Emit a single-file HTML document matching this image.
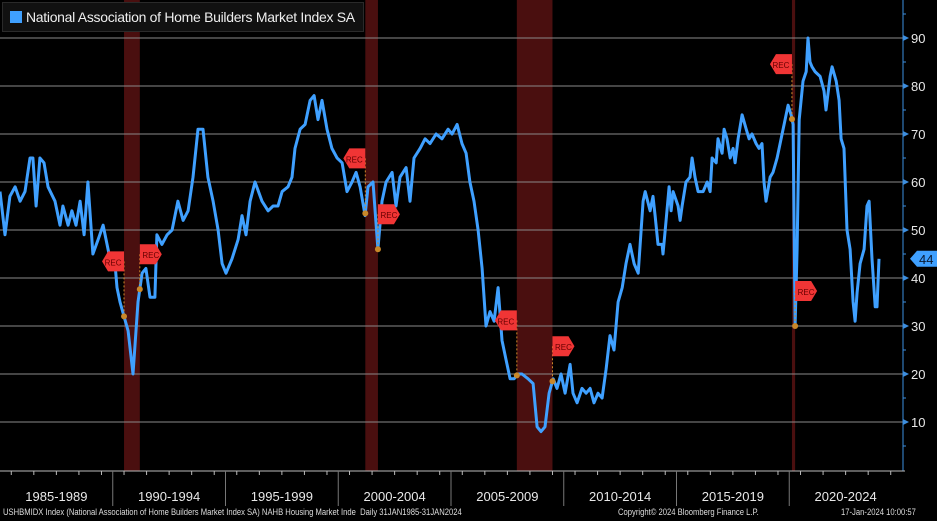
<!DOCTYPE html>
<html><head><meta charset="utf-8"><style>
html,body{margin:0;padding:0;background:#000;width:937px;height:521px;overflow:hidden}
svg{display:block;font-family:"Liberation Sans",sans-serif}
</style></head><body>
<svg id="c" width="937" height="521"></svg>
<script>
const years=[1985.00,1985.22,1985.44,1985.67,1985.89,1986.11,1986.33,1986.46,1986.60,1986.77,1986.95,1987.13,1987.44,1987.66,1987.79,1988.02,1988.19,1988.37,1988.55,1988.73,1988.90,1989.12,1989.35,1989.57,1989.88,1990.10,1990.19,1990.32,1990.50,1990.68,1990.90,1991.03,1991.12,1991.30,1991.47,1991.65,1991.87,1991.96,1992.18,1992.41,1992.63,1992.89,1993.12,1993.34,1993.56,1993.78,1994.00,1994.22,1994.45,1994.67,1994.85,1995.02,1995.29,1995.56,1995.73,1995.91,1996.09,1996.31,1996.62,1996.89,1997.11,1997.33,1997.51,1997.77,1997.95,1998.08,1998.31,1998.53,1998.75,1998.93,1999.10,1999.28,1999.50,1999.72,1999.95,2000.17,2000.39,2000.61,2000.79,2000.97,2001.19,2001.32,2001.54,2001.76,2001.94,2002.12,2002.39,2002.56,2002.74,2003.01,2003.18,2003.36,2003.63,2003.85,2004.07,2004.34,2004.60,2004.87,2005.05,2005.27,2005.49,2005.67,2005.84,2006.02,2006.20,2006.38,2006.55,2006.73,2006.91,2007.09,2007.26,2007.44,2007.62,2007.80,2007.97,2008.15,2008.42,2008.64,2008.82,2008.99,2009.17,2009.35,2009.53,2009.70,2009.88,2010.06,2010.28,2010.41,2010.59,2010.81,2010.99,2011.17,2011.34,2011.52,2011.70,2011.88,2012.05,2012.23,2012.41,2012.59,2012.76,2012.94,2013.12,2013.30,2013.52,2013.61,2013.83,2013.96,2014.05,2014.18,2014.36,2014.40,2014.54,2014.67,2014.76,2014.85,2015.07,2015.16,2015.25,2015.42,2015.60,2015.69,2015.82,2015.96,2016.18,2016.36,2016.49,2016.58,2016.76,2016.84,2017.02,2017.11,2017.24,2017.38,2017.51,2017.60,2017.73,2017.91,2018.09,2018.22,2018.35,2018.53,2018.66,2018.79,2018.88,2018.97,2019.15,2019.28,2019.46,2019.64,2019.77,2019.95,2020.08,2020.17,2020.26,2020.35,2020.44,2020.61,2020.75,2020.83,2020.92,2021.01,2021.14,2021.37,2021.54,2021.63,2021.81,2021.90,2022.08,2022.21,2022.30,2022.43,2022.56,2022.70,2022.83,2022.92,2023.01,2023.14,2023.32,2023.45,2023.54,2023.67,2023.81,2023.89,2023.98];
const values=[58,49,57,59,56,58,65,65,55,65,64,59,56,51,55,51,54,51,56,49,60,45,48,51,44,43,38,35,32,29,20,29,35,41,42,36,36,49,47,49,50,56,52,54,61,71,71,61,56,50,43,41,44,48,53,49,56,60,56,54,55,55,58,59,61,67,71,72,77,78,73,77,71,67,65,64,58,60,62,59,53,59,60,46,56,60,62,55,61,63,56,65,67,69,68,70,69,71,70,72,68,66,60,56,50,42,30,33,31,38,27,23,19,19,20,20,19,18,9,8,9,16,19,17,20,16,22,16,14,17,16,17,14,16,15,21,28,25,35,38,43,47,43,41,56,58,54,57,53,47,47,45,52,59,54,58,55,52,55,60,61,65,61,58,58,60,58,65,64,69,66,71,69,65,67,64,69,74,71,69,70,68,67,68,60,56,61,62,65,69,72,76,74,72,30,46,73,81,83,90,85,84,83,82,79,75,82,84,81,77,69,67,50,46,35,31,37,43,46,55,56,44,34,34,44];
const recStarts=[1990.5,2001.2,2007.92,2020.12];
const recEnds=[1991.2,2001.76,2009.5,2020.26];
const yTicks=[10,20,30,40,50,60,70,80,90];
const periodLabels=["1985-1989","1990-1994","1995-1999","2000-2004","2005-2009","2010-2014","2015-2019","2020-2024"];
const periodStarts=[1985,1990,1995,2000,2005,2010,2015,2020];
const lastValue=44;

const NS="http://www.w3.org/2000/svg";
const svg=document.getElementById('c');
const X=t=>(t-1985)*22.55;
const Y=v=>38+(90-v)*4.8;
function mk(tag,attrs,parent){const e=document.createElementNS(NS,tag);for(const k in attrs)e.setAttribute(k,attrs[k]);(parent||svg).appendChild(e);return e;}
function valAt(t){for(let i=1;i<years.length;i++){if(years[i]>=t){const f=(t-years[i-1])/(years[i]-years[i-1]);return values[i-1]+f*(values[i]-values[i-1]);}}return values[values.length-1];}

for(let i=0;i<recStarts.length;i++){
  const r=mk('rect',{x:X(recStarts[i]),y:0,width:Math.max(2,X(recEnds[i])-X(recStarts[i])),height:471,fill:'#4a0f0f'});
  
  
}
yTicks.forEach(v=>{
  const l=mk('line',{x1:0,x2:903,y1:Y(v),y2:Y(v),stroke:'#8a8a8a','stroke-width':1});
  
  
});
const ax=mk('line',{x1:903,x2:903,y1:0,y2:471,stroke:'#3d8fe0','stroke-width':1});


for(let v=5;v<=95;v+=5){
  mk('line',{x1:903,x2:v%10===0?908:906,y1:Y(v),y2:Y(v),stroke:'#3d8fe0'});
}
yTicks.forEach(v=>{
  mk('polygon',{points:`903,${Y(v)-3} 909,${Y(v)} 903,${Y(v)+3}`,fill:'#3d8fe0'});
  const t=mk('text',{x:911,y:Y(v)+5,fill:'#e8e8e8','font-size':13});
  t.textContent=v;
  
  
});
let d='';
years.forEach((t,i)=>{d+=(i?'L':'M')+X(t).toFixed(1)+','+Y(values[i]).toFixed(1);});
const line=mk('path',{d:d,fill:'none',stroke:'#3fa0ff','stroke-width':3,'stroke-linejoin':'round'});


for(let i=0;i<recStarts.length;i++){
  [recStarts[i],recEnds[i]].forEach((t,j)=>{
    const v=valAt(t), x=X(t);
    const fy=j===0?Y(v)-65:Y(v)-45;
    mk('line',{x1:x,x2:x,y1:fy+10,y2:Y(v),stroke:'#d08a2a','stroke-dasharray':'2,2'});
    const dot=mk('circle',{cx:x,cy:Y(v),r:3,fill:'#c8882a'});
    
    
    const g=mk('g',{});
    
    
    const pts=j===0?`${x},${fy} ${x},${fy+20} ${x-16},${fy+20} ${x-22},${fy+10} ${x-16},${fy}`:`${x},${fy} ${x+16},${fy} ${x+22},${fy+10} ${x+16},${fy+20} ${x},${fy+20}`;
    mk('polygon',{points:pts,fill:'#f03535'},g);
    const tx=mk('text',{x:j===0?x-11:x+11,y:fy+14,'font-size':8,fill:'#600','text-anchor':'middle'},g);
    tx.textContent='REC';
  });
}
const by=Y(lastValue);
const badge=mk('polygon',{points:`910,${by} 917,${by-8} 937,${by-8} 937,${by+8} 917,${by+8}`,fill:'#3fa0ff'});


const bt=mk('text',{x:919,y:by+5,'font-size':13,fill:'#0a1a33'});bt.textContent=lastValue;


const xa=mk('line',{x1:0,x2:905,y1:471,y2:471,stroke:'#bbb'});


for(let y=1985;y<=2024;y++){mk('line',{x1:X(y+0.5),x2:X(y+0.5),y1:471,y2:475,stroke:'#bbb'});}
periodStarts.forEach((p,i)=>{
  if(i>0)mk('line',{x1:X(p),x2:X(p),y1:471,y2:506,stroke:'#777'});
  const t=mk('text',{x:X(p+2.5),y:501,'font-size':13,fill:'#e8e8e8','text-anchor':'middle'});
  t.textContent=periodLabels[i];
  
  
});
</script>
<div style="position:absolute;left:2px;top:2px;width:362px;height:30px;background:#111;border:1px solid #2a2a2a;box-sizing:border-box;font-family:'Liberation Sans',sans-serif;font-size:14px;color:#eee;line-height:28px">
<span style="position:absolute;left:7px;top:8px;width:12px;height:12px;background:#3fa0ff"></span>
<span style="position:absolute;left:23px;top:0;white-space:nowrap;letter-spacing:-0.3px">National Association of Home Builders Market Index SA</span>
</div>
<div style="position:absolute;left:3px;top:507px;font-family:'Liberation Sans',sans-serif;font-size:9px;color:#ddd;white-space:nowrap;transform:scaleX(0.85);transform-origin:left">USHBMIDX Index (National Association of Home Builders Market Index SA) NAHB Housing Market Inde&nbsp; Daily 31JAN1985-31JAN2024</div>
<div style="position:absolute;left:618px;top:507px;font-family:'Liberation Sans',sans-serif;font-size:9px;color:#ddd;white-space:nowrap;transform:scaleX(0.85);transform-origin:left">Copyright© 2024 Bloomberg Finance L.P.</div>
<div style="position:absolute;left:841px;top:507px;font-family:'Liberation Sans',sans-serif;font-size:9px;color:#ddd;white-space:nowrap;transform:scaleX(0.85);transform-origin:left">17-Jan-2024 10:00:57</div>
</body></html>
